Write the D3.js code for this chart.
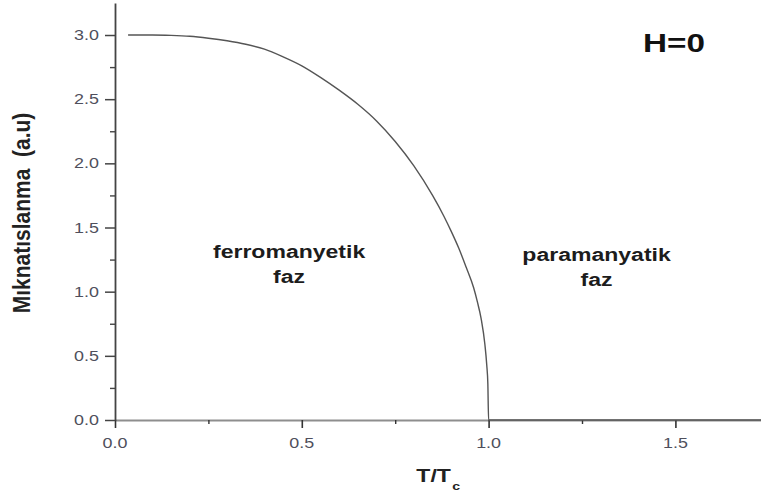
<!DOCTYPE html>
<html>
<head>
<meta charset="utf-8">
<script src="https://cdn.jsdelivr.net/npm/d3@7/dist/d3.min.js"></script>
<style>
  html, body { margin: 0; padding: 0; background: #fff; }
  svg { display: block; }
  text { font-family: "Liberation Sans", Arial, sans-serif; }
</style>
</head>
<body>
<svg id="chart" width="761" height="495"></svg>
<script>
// Reduced temperature T/Tc and magnetization (arbitrary units)
const temperature = [0.035, 0.10, 0.15, 0.20, 0.25, 0.30, 0.35, 0.40, 0.45, 0.50, 0.55, 0.60, 0.65, 0.70, 0.75, 0.80, 0.85, 0.88, 0.90, 0.92, 0.94, 0.96, 0.97, 0.98, 0.99, 0.995, 0.998, 1.000, 1.20, 1.50, 1.80];
const magnetization = [3.00, 3.00, 2.997, 2.99, 2.975, 2.955, 2.928, 2.89, 2.83, 2.76, 2.67, 2.57, 2.46, 2.33, 2.17, 1.98, 1.75, 1.59, 1.47, 1.34, 1.19, 1.03, 0.92, 0.79, 0.59, 0.43, 0.28, 0.00, 0.00, 0.00, 0.00];

const xMajorTicks = [0, 0.5, 1.0, 1.5];
const xMinorTicks = [0.25, 0.75, 1.25];
const yMajorTicks = [0, 0.5, 1.0, 1.5, 2.0, 2.5, 3.0];
const yMinorTicks = [0.25, 0.75, 1.25, 1.75, 2.25, 2.75];

const xTitle = "T/T";
const xTitleSub = "c";
const yTitle = "Mıknatıslanma  (a.u)";
const fieldLabel = "H=0";
const phaseLabels = [
  { lines: ["ferromanyetik", "faz"], t: 0.466, m: 1.262 },
  { lines: ["paramanyatik", "faz"], t: 1.289, m: 1.239 }
];

const svg = d3.select("#chart");
const stretch = 1.28; // glyphs are drawn wider than the font's natural width

const x = d3.scaleLinear().domain([0, 1.75]).range([115, 115 + 1.75 * 373.6]);
const y = d3.scaleLinear().domain([0, 3.25]).range([420, 420 - 3.25 * 128.33]);

// x axis
const gx = svg.append("g").attr("transform", `translate(0,${y(0)})`);
gx.call(d3.axisBottom(x).tickValues(xMajorTicks).tickSize(8).tickSizeOuter(0).tickFormat(""));
gx.call(g => g.select(".domain").attr("stroke", "#8e8e8e").attr("stroke-width", 2.2));
gx.selectAll(".tick line").attr("stroke", "#333").attr("stroke-width", 1.6);
const gxm = svg.append("g").attr("transform", `translate(0,${y(0)})`);
gxm.call(d3.axisBottom(x).tickValues(xMinorTicks).tickSize(4).tickFormat(""));
gxm.select(".domain").remove();
gxm.selectAll(".tick line").attr("stroke", "#333").attr("stroke-width", 1.4);

// y axis
const gy = svg.append("g").attr("transform", `translate(${x(0)},0)`);
gy.call(d3.axisLeft(y).tickValues(yMajorTicks).tickSize(10).tickSizeOuter(0).tickFormat(""));
gy.select(".domain").attr("stroke", "#444").attr("stroke-width", 1.8);
gy.selectAll(".tick line").attr("stroke", "#444").attr("stroke-width", 1.5);
const gym = svg.append("g").attr("transform", `translate(${x(0)},0)`);
gym.call(d3.axisLeft(y).tickValues(yMinorTicks).tickSize(5).tickFormat(""));
gym.select(".domain").remove();
gym.selectAll(".tick line").attr("stroke", "#444").attr("stroke-width", 1.4);

const fmt = d3.format(".1f");
const tickColor = "#4f4f5c";

// tick labels
svg.append("g").selectAll("text").data(yMajorTicks).join("text")
  .attr("transform", d => `translate(${x(0) - 16},${y(d)}) scale(${stretch},1)`)
  .attr("text-anchor", "end").attr("dy", "0.36em")
  .attr("font-size", 14).attr("fill", tickColor)
  .text(fmt);

svg.append("g").selectAll("text").data(xMajorTicks).join("text")
  .attr("transform", d => `translate(${x(d)},${y(0) + 28}) scale(${stretch},1)`)
  .attr("text-anchor", "middle")
  .attr("font-size", 14).attr("fill", tickColor)
  .text(fmt);

// axis titles
const xt = svg.append("text")
  .attr("transform", `translate(${x(0.865)},482) scale(${stretch},1)`)
  .attr("font-size", 18).attr("font-weight", "bold").attr("fill", "#222")
  .attr("text-anchor", "middle");
xt.append("tspan").text(xTitle);
xt.append("tspan").attr("font-size", 11).attr("dy", 8).attr("dx", 1).text(xTitleSub);

svg.append("text")
  .attr("transform", `translate(22,213) scale(1.1,1) rotate(-90)`)
  .attr("text-anchor", "middle").attr("dy", "0.36em")
  .style("white-space", "pre")
  .attr("font-size", 21).attr("font-weight", "bold").attr("fill", "#222")
  .text(yTitle);

// magnetization curve
const line = d3.line().x(d => x(d[0])).y(d => y(d[1])).curve(d3.curveMonotoneX);
svg.append("path")
  .datum(d3.zip(temperature, magnetization))
  .attr("d", line)
  .attr("fill", "none").attr("stroke", "#555").attr("stroke-width", 1.4);

// phase labels
phaseLabels.forEach(p => {
  const t = svg.append("text")
    .attr("transform", `translate(${x(p.t)},${y(p.m)}) scale(${stretch},1)`)
    .attr("text-anchor", "middle")
    .attr("font-size", 18).attr("font-weight", "bold").attr("fill", "#1c1c1c");
  p.lines.forEach((s, i) => t.append("tspan").attr("x", 0).attr("dy", i ? 25 : 0).text(s));
});

svg.append("text")
  .attr("transform", `translate(674,52) scale(${stretch},1)`)
  .attr("text-anchor", "middle")
  .attr("font-size", 26).attr("font-weight", "bold").attr("fill", "#111")
  .text(fieldLabel);
</script>
</body>
</html>
